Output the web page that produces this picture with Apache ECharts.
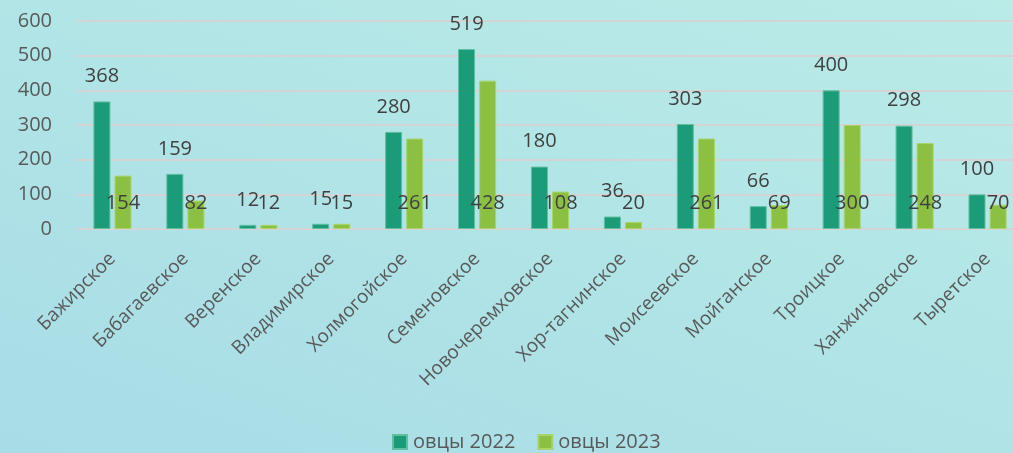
<!DOCTYPE html>
<html><head><meta charset="utf-8">
<script src="https://cdn.jsdelivr.net/npm/echarts@6/dist/echarts.min.js"></script>
<style>
html,body{margin:0;padding:0;}
body{width:1013px;height:453px;background:linear-gradient(200deg,#b9ebe7 0%,#b1e4e6 50%,#a8dce7 100%);}
#c{width:1013px;height:453px;}
</style></head>
<body><div id="c"></div>
<script>
const categories = ['Бажирское','Бабагаевское','Веренское','Владимирское','Холмогойское','Семеновское','Новочеремховское','Хор-тагнинское','Моисеевское','Мойганское','Троицкое','Ханжиновское','Тыретское'];
const sheep2022 = [368,159,12,15,280,519,180,36,303,66,400,298,100];
const sheep2023 = [154,82,12,15,261,428,108,20,261,69,300,248,70];
const yTicks = [0,100,200,300,400,500,600];

const FONT = '"Open Sans", "DejaVu Sans", sans-serif';
const chart = echarts.init(document.getElementById('c'), null, {renderer:'canvas'});
chart.setOption({
  backgroundColor: 'transparent',
  animation: false,
  textStyle: {fontFamily: FONT},
  grid: {left: 76, right: -11, top: 21, bottom: 224, containLabel: false, outerBoundsMode: 'none'},
  legend: {
    left: 387, top: 427, itemWidth: 14, itemHeight: 14, itemGap: 22, icon: 'rect',
    textStyle: {fontFamily: FONT, fontSize: 20, color: '#595959', padding: [0,0,0,1]},
    data: ['овцы 2022','овцы 2023']
  },
  xAxis: {
    type: 'category', data: categories,
    axisLine: {show: false}, axisTick: {show: false},
    axisLabel: {rotate: 45, interval: 0, margin: 27, fontSize: 19, color: '#595959', fontFamily: FONT}
  },
  yAxis: {
    type: 'value', min: yTicks[0], max: yTicks[yTicks.length-1], interval: 100,
    axisLine: {show: false}, axisTick: {show: false},
    axisLabel: {margin: 24, fontSize: 20, color: '#595959', fontFamily: FONT},
    splitLine: {lineStyle: {color: '#d4d4d4', width: 2}}
  },
  series: [
    {
      name: 'овцы 2022', type: 'bar', data: sheep2022, barWidth: 17, barGap: '24%',
      itemStyle: {color: '#1c9b78', borderColor: '#5fbfa0', borderWidth: 1},
      label: {show: true, position: 'top', distance: 15, fontSize: 20, color: '#404040', fontFamily: FONT}
    },
    {
      name: 'овцы 2023', type: 'bar', data: sheep2023, barWidth: 17,
      itemStyle: {color: '#8cc043', borderColor: '#a9d46c', borderWidth: 1},
      label: {show: true, position: 'insideBottom', distance: 16, fontSize: 20, color: '#404040', fontFamily: FONT}
    }
  ]
});
</script>
</body></html>
